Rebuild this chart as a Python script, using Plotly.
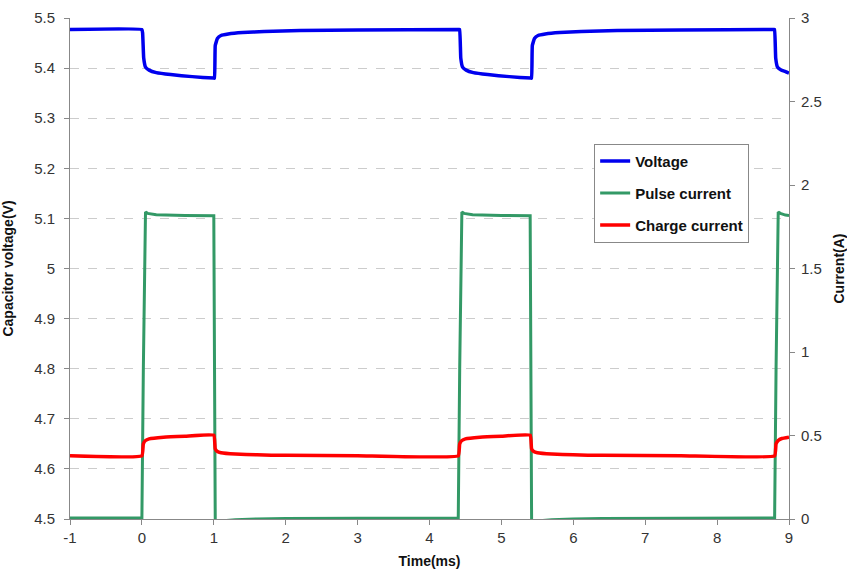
import plotly.graph_objects as go

# Voltage (V) vs time (ms)
t_volt = [-1.0, 0.0, 0.01, 0.025, 0.05, 0.1, 0.2, 0.4, 0.7, 1.0, 1.01, 1.02, 1.05, 1.1, 1.2, 1.4, 1.7, 2.2, 3.0, 4.41,
          4.42, 4.435, 4.46, 4.51, 4.61, 4.81, 5.11, 5.41, 5.42, 5.43, 5.46, 5.51, 5.61, 5.81, 6.11, 6.61, 7.5, 8.79,
          8.80, 8.815, 8.84, 8.89, 8.95, 9.0]
voltage = [5.477, 5.477, 5.47, 5.42, 5.402, 5.396, 5.391, 5.387, 5.383, 5.380, 5.380, 5.445, 5.459, 5.465, 5.468, 5.471, 5.473, 5.475, 5.476, 5.477,
           5.477, 5.42, 5.402, 5.396, 5.391, 5.387, 5.383, 5.380, 5.380, 5.445, 5.459, 5.465, 5.468, 5.471, 5.473, 5.475, 5.476, 5.477,
           5.477, 5.42, 5.402, 5.396, 5.393, 5.390]

# Pulse current (A)
t_pulse = [-1.0, 0.0, 0.02, 0.05, 0.08, 0.2, 0.6, 1.0, 1.02, 1.05, 1.1, 1.3, 1.6, 2.0, 3.0, 4.40,
           4.42, 4.45, 4.48, 4.6, 5.0, 5.40, 5.42, 5.45, 5.5, 5.7, 6.0, 6.4, 7.5, 8.80,
           8.82, 8.85, 8.88, 8.95, 9.0]
pulse_current = [0.006, 0.006, 0.9, 1.838, 1.83, 1.822, 1.818, 1.816, 0.0, -0.02, -0.012, -0.004, 0.0, 0.003, 0.005, 0.006,
                 0.9, 1.838, 1.83, 1.822, 1.818, 1.816, 0.0, -0.02, -0.012, -0.004, 0.0, 0.003, 0.005, 0.006,
                 0.9, 1.838, 1.83, 1.82, 1.818]

# Charge current (A)
t_charge = [-1.0, 0.0, 0.02, 0.05, 0.1, 0.3, 0.6, 1.0, 1.02, 1.05, 1.1, 1.3, 1.6, 2.0, 3.0, 4.40,
            4.42, 4.45, 4.5, 4.7, 5.0, 5.40, 5.42, 5.45, 5.5, 5.7, 6.0, 6.4, 7.5, 8.80,
            8.82, 8.85, 8.9, 9.0]
charge_current = [0.378, 0.378, 0.45, 0.47, 0.480, 0.490, 0.496, 0.502, 0.420, 0.404, 0.397, 0.389, 0.384, 0.381, 0.379, 0.378,
                  0.45, 0.47, 0.480, 0.490, 0.496, 0.502, 0.420, 0.404, 0.397, 0.389, 0.384, 0.381, 0.379, 0.378,
                  0.45, 0.47, 0.482, 0.490]

x_ticks = [-1, 0, 1, 2, 3, 4, 5, 6, 7, 8, 9]
x_labels = ["-1", "0", "1", "2", "3", "4", "5", "6", "7", "8", "9"]
v_ticks = [4.5, 4.6, 4.7, 4.8, 4.9, 5.0, 5.1, 5.2, 5.3, 5.4, 5.5]
v_labels = ["4.5", "4.6", "4.7", "4.8", "4.9", "5", "5.1", "5.2", "5.3", "5.4", "5.5"]
i_ticks = [0, 0.5, 1, 1.5, 2, 2.5, 3]
i_labels = ["0", "0.5", "1", "1.5", "2", "2.5", "3"]

FONT = "Liberation Sans, Arial, sans-serif"

fig = go.Figure()
fig.add_trace(go.Scatter(x=t_volt, y=voltage, mode="lines", name="<b>Voltage</b>",
                         line=dict(color="#0000ee", width=3.5, shape="spline", smoothing=0.3),
                         legendgroup="a", yaxis="y"))
fig.add_trace(go.Scatter(x=t_pulse, y=pulse_current, mode="lines", name="<b>Pulse current</b>",
                         line=dict(color="#339966", width=3), legendgroup="b", yaxis="y2"))
fig.add_trace(go.Scatter(x=t_charge, y=charge_current, mode="lines", name="<b>Charge current</b>",
                         line=dict(color="#ff0000", width=3.5, shape="spline", smoothing=0.3),
                         legendgroup="c", yaxis="y2"))

axis_common = dict(showline=True, linecolor="#888888", linewidth=1, ticks="outside",
                   tickcolor="#888888", ticklen=5, tickfont=dict(family=FONT, size=15, color="#333"),
                   zeroline=False, automargin=False)

fig.update_layout(
    width=847, height=569,
    margin=dict(l=70, r=58, t=18, b=50),
    paper_bgcolor="white", plot_bgcolor="white",
    font=dict(family=FONT, color="#111"),
    xaxis=dict(range=[-1, 9], tickvals=x_ticks, ticktext=x_labels, showgrid=False,
               title=dict(text="<b>Time(ms)</b>", font=dict(family=FONT, size=14, color="#111"), standoff=11),
               **axis_common),
    yaxis=dict(range=[4.5, 5.5], tickvals=v_ticks, ticktext=v_labels, showgrid=True,
               gridcolor="#cccccc", griddash="dash", gridwidth=1, ticklabelstandoff=6,
               title=dict(text="<b>Capacitor voltage(V)</b>", font=dict(family=FONT, size=14, color="#111"), standoff=17),
               **axis_common),
    yaxis2=dict(range=[0, 3], tickvals=i_ticks, ticktext=i_labels, overlaying="y", side="right",
                showgrid=False, ticklabelstandoff=3,
                title=dict(text="<b>Current(A)</b>", font=dict(family=FONT, size=14, color="#111"), standoff=15),
                **axis_common),
    legend=dict(x=0.729, y=0.749, xanchor="left", yanchor="top",
                bgcolor="white", bordercolor="#888888", borderwidth=1,
                font=dict(family=FONT, size=15, color="#111"),
                tracegroupgap=9.5, itemwidth=30),
    showlegend=True,
)

fig.write_html("out.html", config={"displayModeBar": False},
               post_script="document.body.style.margin='0';")
